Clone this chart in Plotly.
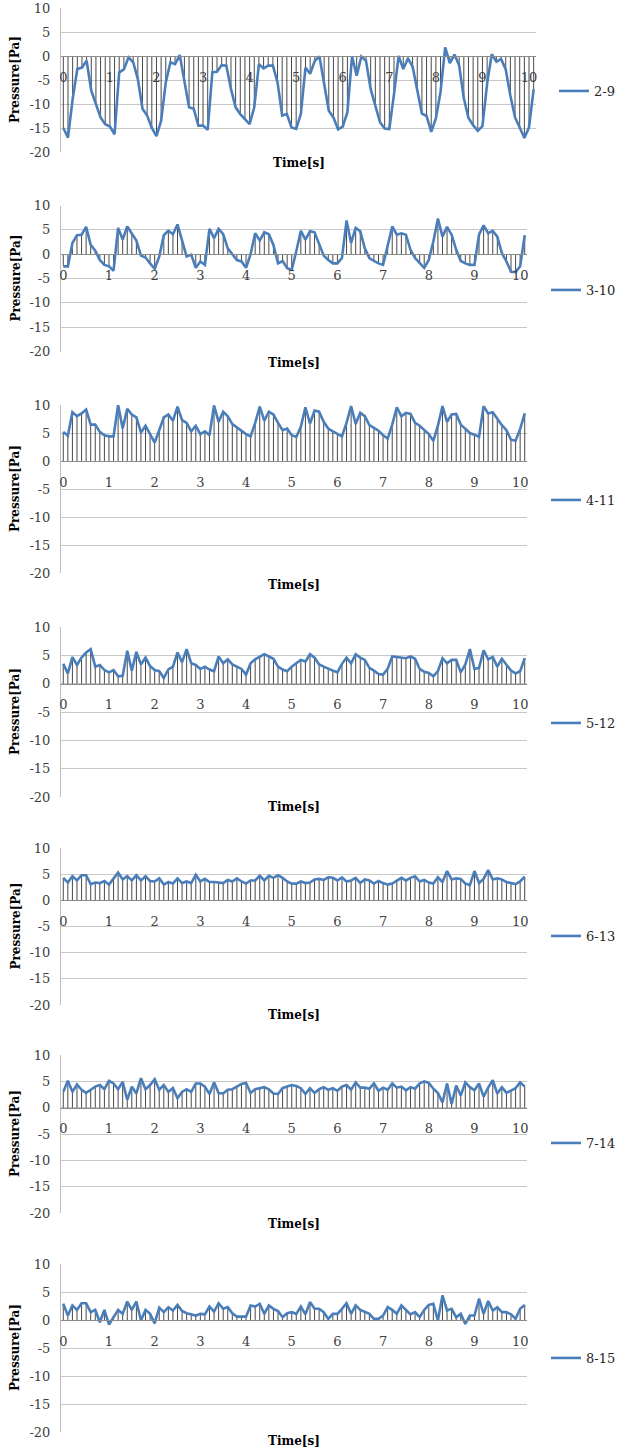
import plotly.graph_objects as go

# ---------------- data ----------------
time_s = [
    0.0, 0.1, 0.2, 0.3, 0.4, 0.5, 0.6, 0.7, 0.8, 0.9,
    1.0, 1.1, 1.2, 1.3, 1.4, 1.5, 1.6, 1.7, 1.8, 1.9,
    2.0, 2.1, 2.2, 2.3, 2.4, 2.5, 2.6, 2.7, 2.8, 2.9,
    3.0, 3.1, 3.2, 3.3, 3.4, 3.5, 3.6, 3.7, 3.8, 3.9,
    4.0, 4.1, 4.2, 4.3, 4.4, 4.5, 4.6, 4.7, 4.8, 4.9,
    5.0, 5.1, 5.2, 5.3, 5.4, 5.5, 5.6, 5.7, 5.8, 5.9,
    6.0, 6.1, 6.2, 6.3, 6.4, 6.5, 6.6, 6.7, 6.8, 6.9,
    7.0, 7.1, 7.2, 7.3, 7.4, 7.5, 7.6, 7.7, 7.8, 7.9,
    8.0, 8.1, 8.2, 8.3, 8.4, 8.5, 8.6, 8.7, 8.8, 8.9,
    9.0, 9.1, 9.2, 9.3, 9.4, 9.5, 9.6, 9.7, 9.8, 9.9,
    10.0, 10.1,
]

series_labels = ["2-9", "3-10", "4-11", "5-12", "6-13", "7-14", "8-15"]

p_2_9 = [
    -15.0, -17.0, -9.0, -2.7, -2.4, -1.0, -7.2, -10.0, -12.8, -14.2,
    -14.7, -16.3, -3.4, -2.8, -0.3, -1.3, -4.8, -11.0, -12.4, -15.0,
    -16.7, -13.5, -5.5, -1.3, -1.7, 0.2, -5.5, -10.7, -11.0, -14.5,
    -14.5, -15.4, -3.4, -3.3, -1.9, -2.0, -6.9, -10.7, -12.1, -13.1,
    -14.2, -10.7, -1.7, -2.6, -2.0, -2.0, -5.5, -12.4, -12.1, -14.9,
    -15.2, -12.1, -2.4, -3.7, -1.0, -0.1, -5.5, -11.4, -12.8, -15.3,
    -14.7, -11.7, -0.1, -4.1, -0.1, -1.0, -6.9, -10.3, -13.8, -15.1,
    -15.2, -8.0, 0.0, -2.7, -0.5, -2.2, -7.0, -12.0, -12.5, -15.8,
    -13.0, -7.5, 1.8, -1.5, 0.3, -2.0, -8.8, -12.9, -14.4, -15.6,
    -14.6, -5.8, 0.4, -1.2, -0.6, -2.8, -8.3, -12.8, -14.9, -17.1,
    -14.9, -6.9,
]

p_3_10 = [
    -2.5, -2.5, 2.3, 3.9, 4.0, 5.6, 1.9, 0.7, -1.2, -2.2,
    -2.5, -3.4, 5.4, 3.0, 5.7, 4.3, 2.8, -0.3, -0.7, -1.9,
    -3.0, -0.5, 3.9, 4.8, 4.1, 6.1, 2.6, -0.5, -0.1, -2.8,
    -1.5, -2.2, 5.2, 3.3, 5.2, 4.1, 1.2, -0.1, -1.2, -1.5,
    -2.8, 0.0, 4.3, 2.8, 4.5, 4.1, 1.9, -1.9, -1.4, -2.9,
    -3.2, 0.6, 4.8, 3.0, 4.7, 4.5, 2.0, -0.3, -1.2, -1.9,
    -1.9, -0.8, 6.9, 2.3, 5.4, 4.7, 1.2, -0.8, -1.4, -1.9,
    -2.2, 1.6, 5.7, 4.0, 4.3, 4.0, 0.9, -0.8, -1.9, -2.8,
    -1.2, 2.6, 7.3, 3.6, 5.6, 4.0, 0.9, -1.4, -1.9, -2.2,
    -2.2, 4.0, 5.9, 4.3, 4.8, 3.6, 0.2, -1.5, -3.6, -3.7,
    -2.5, 3.9,
]

p_4_11 = [
    5.2, 4.5, 8.7, 8.0, 8.5, 9.2, 6.5, 6.5, 5.2, 4.6,
    4.4, 4.4, 10.0, 5.8, 9.3, 8.3, 7.8, 5.1, 6.3, 4.9,
    3.3, 5.5, 7.8, 8.3, 7.2, 9.7, 7.3, 6.8, 5.3, 6.3,
    4.8, 5.3, 4.6, 9.9, 7.0, 8.8, 8.0, 6.6, 6.0, 5.5,
    4.8, 4.4, 6.8, 9.7, 7.2, 8.8, 8.3, 6.8, 5.5, 5.8,
    4.6, 4.3, 6.1, 9.6, 6.7, 9.0, 8.8, 7.0, 5.8, 5.3,
    4.9, 4.4, 6.8, 9.8, 6.6, 8.6, 8.0, 6.4, 5.9, 5.4,
    4.6, 4.0, 6.5, 9.6, 8.0, 8.6, 8.4, 6.8, 6.3, 5.5,
    4.8, 3.6, 6.3, 9.8, 7.0, 8.3, 8.4, 6.5, 5.7, 5.0,
    4.7, 4.3, 9.8, 8.5, 8.7, 7.5, 6.4, 5.5, 3.8, 3.6,
    5.7, 8.5,
]

p_5_12 = [
    3.5, 1.8, 4.7, 3.3, 4.6, 5.5, 6.1, 3.0, 3.3, 2.4,
    2.0, 2.4, 1.3, 1.4, 5.8, 2.3, 5.6, 3.4, 4.6, 3.1,
    2.4, 2.2, 1.0, 2.5, 3.0, 5.5, 3.8, 6.1, 3.6, 3.3,
    2.6, 3.0, 2.5, 2.2, 4.8, 3.6, 4.3, 3.4, 3.0, 2.6,
    1.6, 3.6, 4.3, 4.8, 5.2, 4.8, 4.4, 3.0, 2.5, 2.2,
    3.0, 3.6, 4.2, 3.9, 5.2, 4.6, 3.4, 3.0, 2.6, 2.3,
    2.0, 3.5, 4.6, 3.6, 5.2, 4.6, 4.2, 2.8, 2.3, 1.7,
    1.6, 2.6, 4.8, 4.7, 4.7, 4.5, 4.8, 4.4, 2.6, 2.1,
    1.9, 1.3, 2.2, 4.5, 3.6, 4.2, 4.2, 2.0, 3.4, 6.1,
    2.6, 2.8, 5.9, 4.3, 4.7, 3.0, 4.4, 3.4, 2.3, 1.8,
    2.2, 4.5,
]

p_6_13 = [
    4.3, 3.4, 4.6, 3.8, 4.8, 4.8, 3.1, 3.4, 3.3, 3.7,
    3.0, 4.2, 5.3, 4.0, 4.6, 3.8, 4.8, 3.8, 4.6, 3.7,
    3.6, 4.2, 3.0, 3.5, 3.2, 4.2, 3.3, 3.6, 3.3, 4.9,
    3.6, 4.1, 3.5, 3.5, 3.4, 3.3, 3.9, 3.6, 4.2, 3.6,
    3.2, 3.8, 3.8, 4.7, 3.8, 4.7, 4.3, 4.8, 4.3, 3.6,
    3.2, 3.2, 3.6, 3.3, 3.4, 4.0, 4.1, 3.9, 4.4, 4.3,
    3.8, 4.4, 3.6, 3.8, 4.3, 3.3, 4.0, 3.8, 3.2, 3.7,
    3.3, 3.0, 3.2, 3.8, 4.3, 3.8, 4.3, 4.6, 3.6, 3.9,
    3.4, 3.2, 4.4, 3.5, 5.6, 4.0, 4.2, 4.1, 3.2, 2.9,
    5.6, 3.3, 4.1, 5.8, 4.0, 4.2, 4.0, 3.5, 3.3, 3.1,
    3.6, 4.5,
]

p_7_14 = [
    3.0, 5.1, 3.0, 4.4, 3.4, 2.8, 3.4, 4.0, 4.3, 3.5,
    5.1, 4.6, 3.5, 4.9, 1.5, 4.0, 2.7, 5.6, 3.5, 4.3,
    5.4, 3.4, 4.3, 3.0, 3.7, 1.8, 3.0, 3.5, 3.0, 4.6,
    4.6, 4.0, 2.6, 4.8, 2.8, 2.7, 3.4, 3.5, 4.0, 4.5,
    4.7, 2.8, 3.5, 3.7, 3.9, 3.5, 2.7, 2.6, 3.7, 4.0,
    4.3, 4.1, 3.7, 2.6, 3.7, 2.8, 3.5, 3.9, 3.4, 3.7,
    3.2, 4.0, 4.3, 3.4, 4.8, 3.8, 3.8, 3.6, 4.6, 3.2,
    3.8, 3.4, 4.6, 3.8, 4.0, 3.3, 3.9, 3.6, 4.6, 5.0,
    4.7, 3.6, 2.8, 1.0, 4.6, 0.7, 4.2, 2.3, 4.8, 3.9,
    3.3, 4.6, 2.1, 3.8, 5.2, 2.7, 3.9, 2.8, 3.3, 3.7,
    4.8, 4.0,
]

p_8_15 = [
    2.9, 0.8, 2.6, 1.8, 3.0, 3.0, 1.4, 1.8, -0.4, 1.8,
    -0.8, 0.6, 1.8, 1.1, 3.3, 1.8, 3.3, -0.1, 1.8, 1.1,
    -0.6, 2.2, 1.4, 2.3, 1.7, 2.7, 1.6, 1.2, 1.0, 0.8,
    1.1, 1.0, 2.4, 1.5, 3.0, 2.0, 2.3, 1.2, 0.6, 0.6,
    0.6, 2.6, 2.4, 2.9, 1.1, 2.6, 2.0, 1.6, 0.5, 1.2,
    1.4, 1.1, 2.4, 1.0, 3.2, 2.0, 2.0, 1.4, 0.2, 1.1,
    1.1, 2.0, 3.0, 1.1, 2.6, 1.8, 1.4, 1.1, 0.2, 0.2,
    0.8, 2.3, 1.8, 1.1, 2.6, 1.8, 1.0, 1.4, 0.5, 1.8,
    2.7, 2.9, -0.1, 4.4, 1.7, 2.0, 0.5, 1.1, -0.7, 0.8,
    0.8, 3.8, 1.1, 3.4, 1.7, 2.3, 1.4, 1.4, 1.0, 0.2,
    2.0, 2.7,
]

all_series = [p_2_9, p_3_10, p_4_11, p_5_12, p_6_13, p_7_14, p_8_15]

y_ticks = [-20, -15, -10, -5, 0, 5, 10]
x_ticks = [0, 1, 2, 3, 4, 5, 6, 7, 8, 9, 10]

# ---------------- layout geometry (pixels) ----------------
W, H = 617, 1449
plot_left = 61
plot_right = [536, 527, 527, 527, 527, 527, 527]
plot_top = [8, 205.5, 405, 627, 848, 1055, 1264]
plot_bottom = [152, 351.5, 573, 797, 1005, 1213, 1432]
legend_x = [554, 546, 546, 546, 546, 546, 546]
legend_y = [91, 290, 500, 723, 936, 1143, 1358]
time_title_y = [163, 363, 585, 807, 1015, 1224, 1441]

LINE_BLUE = "#4a7ebb"
SERIF = "DejaVu Serif"


def fx(px):
    return px / W


def fy(py):
    return 1 - py / H


fig = go.Figure()
layout = dict(
    width=W, height=H,
    margin=dict(l=0, r=0, t=0, b=0, pad=0, autoexpand=False),
    paper_bgcolor="white", plot_bgcolor="white",
    font=dict(family=SERIF, size=13, color="#404040"),
    annotations=[],
)

for k, (label, vals) in enumerate(zip(series_labels, all_series)):
    n = k + 1
    xa = "x" if n == 1 else f"x{n}"
    ya = "y" if n == 1 else f"y{n}"
    leg = "legend" if n == 1 else f"legend{n}"

    # drop lines from each point to the zero axis
    dx, dy = [], []
    for t, v in zip(time_s, vals):
        dx += [t, t, None]
        dy += [0, v, None]
    fig.add_trace(go.Scatter(
        x=dx, y=dy, mode="lines", xaxis=xa, yaxis=ya,
        line=dict(color="#1a1a1a", width=0.8),
        showlegend=False, hoverinfo="skip",
    ))
    fig.add_trace(go.Scatter(
        x=time_s, y=vals, mode="lines", name=label, xaxis=xa, yaxis=ya,
        line=dict(color=LINE_BLUE, width=2.6),
        legend=leg,
    ))

    top, bot = plot_top[k], plot_bottom[k]
    zero_px = top + (bot - top) * 10 / 30
    ydom = [fy(bot), fy(top)]
    xdom = [fx(plot_left), fx(plot_right[k])]

    layout["xaxis" if n == 1 else f"xaxis{n}"] = dict(
        domain=xdom, range=[-0.05, 10.15],
        anchor="free", position=fy(zero_px),
        tickvals=x_ticks, ticktext=[str(v) for v in x_ticks],
        showgrid=False, zeroline=False,
        showline=True, linecolor="#8c8c8c", linewidth=1,
        ticks="", ticklabelstandoff=9,
        tickfont=dict(family=SERIF, size=13, color="#404040"),
    )
    layout["yaxis" if n == 1 else f"yaxis{n}"] = dict(
        domain=ydom, range=[-20, 10], anchor=xa,
        tickvals=y_ticks, ticktext=[str(v) for v in y_ticks],
        showgrid=True, gridcolor="#c8c8c8", gridwidth=1,
        zeroline=False, showline=True, linecolor="#bdbdbd", linewidth=1,
        ticks="", ticklabelstandoff=7,
        tickfont=dict(family=SERIF, size=13, color="#404040"),
    )
    layout[leg] = dict(
        x=fx(legend_x[k]), y=fy(legend_y[k]), xanchor="left", yanchor="middle",
        bgcolor="rgba(0,0,0,0)", borderwidth=0,
        font=dict(family=SERIF, size=13, color="#262626"),
        itemwidth=30, tracegroupgap=0,
    )
    layout["annotations"].append(dict(
        text="Pressure[Pa]", textangle=-90, xref="paper", yref="paper",
        x=fx(15), y=fy((top + bot) / 2), showarrow=False,
        xanchor="center", yanchor="middle",
        font=dict(family=SERIF, size=12, color="#000000", weight="bold"),
    ))
    layout["annotations"].append(dict(
        text="Time[s]", xref="paper", yref="paper",
        x=fx((plot_left + plot_right[k]) / 2), y=fy(time_title_y[k]),
        showarrow=False, xanchor="center", yanchor="middle",
        font=dict(family=SERIF, size=12, color="#000000", weight="bold"),
    ))

fig.update_layout(**layout)
fig.write_html(
    "out.html",
    config={"displayModeBar": False},
    post_script="document.body.style.margin='0px';document.body.style.overflow='hidden';",
)
